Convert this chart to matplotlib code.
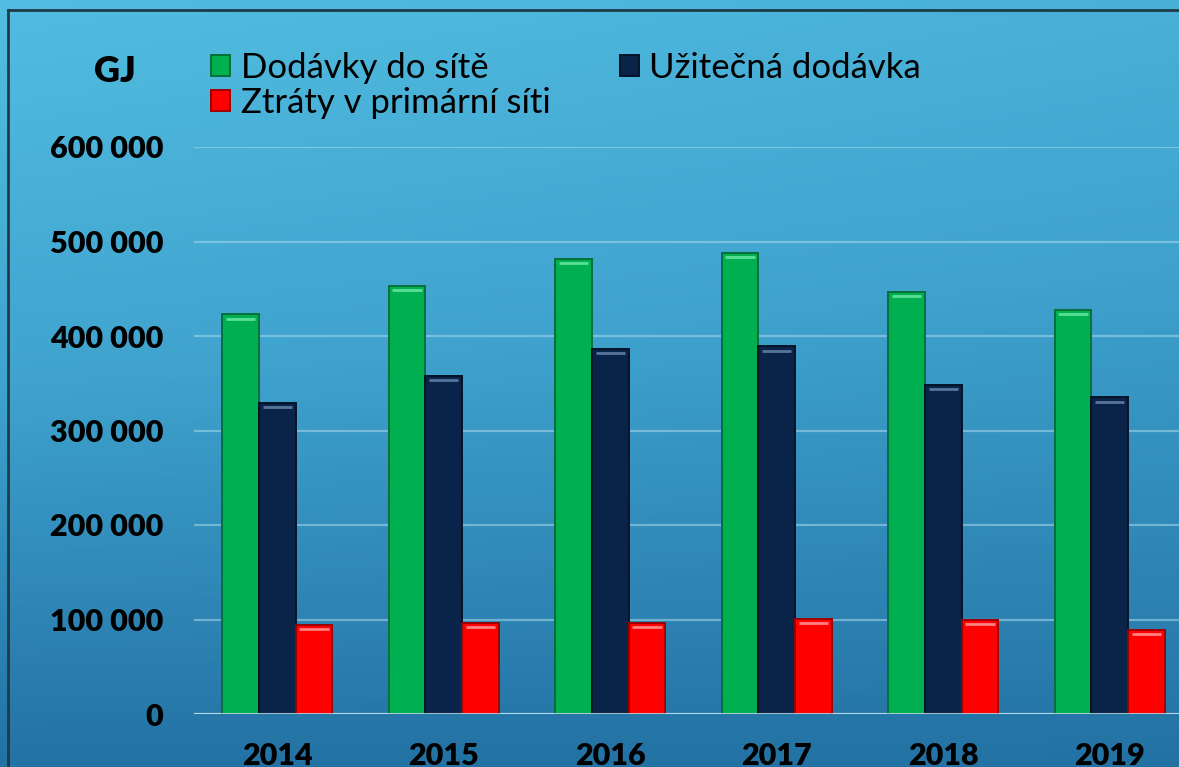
import numpy as np
import matplotlib
matplotlib.use("Agg")
import matplotlib.pyplot as plt
from matplotlib.lines import Line2D
from matplotlib.colors import LinearSegmentedColormap

years = ["2014", "2015", "2016", "2017", "2018", "2019"]
dodavky = [423000, 453000, 482000, 488000, 447000, 428000]
uzitecna = [329000, 358000, 386000, 389000, 348000, 335000]
ztraty = [94500, 96500, 96500, 100500, 99800, 89000]
series_names = ["Dodávky do sítě", "Užitečná dodávka", "Ztráty v primární síti"]
yticks = [0, 100000, 200000, 300000, 400000, 500000, 600000]
ytick_labels = ["0", "100 000", "200 000", "300 000", "400 000", "500 000", "600 000"]

plt.rcParams['font.family'] = ['Lato', 'DejaVu Sans']

W, H = 1179, 767
fig = plt.figure(figsize=(W / 100, H / 100), dpi=100)

# background gradient
bg = fig.add_axes([0, 0, 1, 1], zorder=-10)
yy, xx = np.mgrid[0:1:200j, 0:1:200j]
grad = 0.8 * yy + 0.2 * xx * (1 - yy)
cmap = LinearSegmentedColormap.from_list("bgc", ["#52BDE0", "#3FA3CE", "#2372A4"])
bg.imshow(grad, cmap=cmap, aspect="auto", extent=[0, 1, 0, 1], origin="upper")
bg.set_axis_off()

# frame lines
fig.add_artist(Line2D([8 / W, 1], [1 - 10 / H, 1 - 10 / H], color="#1E3B47", lw=2))
fig.add_artist(Line2D([8 / W, 8 / W], [0, 1 - 10 / H], color="#1E3B47", lw=2))

left = 194 / W
right = 1193 / W
bottom = 1 - 714 / H
top = 1 - 147 / H
ax = fig.add_axes([left, bottom, right - left, top - bottom])
ax.set_facecolor("none")
for s in ax.spines.values():
    s.set_visible(False)

x = np.arange(len(years))
bw = 0.22
colors = ["#00B050", "#0A2449", "#FF0000"]
edges = ["#05703A", "#041328", "#A00000"]
highlights = ["#6BE8A4", "#6683AA", "#FF9A9A"]
data = [dodavky, uzitecna, ztraty]
handles = []
for i, (vals, c, ec, hc) in enumerate(zip(data, colors, edges, highlights)):
    pos = x + (i - 1) * bw
    b = ax.bar(pos, vals, width=bw, color=c, edgecolor=ec, linewidth=1.4, zorder=3,
               label=series_names[i])
    handles.append(b)
    # top bevel highlight
    for p, v in zip(pos, vals):
        ax.plot([p - bw * 0.4, p + bw * 0.4], [v - 4500, v - 4500], color=hc,
                lw=2.0, alpha=0.85, zorder=4, solid_capstyle="butt")

ax.set_xlim(-0.5, 5.5)
ax.set_ylim(0, 600000)
ax.set_yticks(yticks)
ax.set_yticklabels(ytick_labels)
ax.set_xticks(x)
ax.set_xticklabels(years)
ax.yaxis.grid(True, color="#A9D8EC", alpha=0.55, lw=1.6, zorder=0)
ax.axhline(0, color="#C9E6F2", alpha=0.8, lw=2.2, zorder=5)
ax.tick_params(axis="y", length=0, pad=22, labelsize=22)
ax.tick_params(axis="x", length=0, pad=20, labelsize=22)
for lbl in ax.get_yticklabels() + ax.get_xticklabels():
    lbl.set_fontweight("heavy")
    lbl.set_color("black")

fig.text(115 / W, 1 - 72 / H, "GJ", fontsize=26, fontweight="heavy", ha="center", va="center")

leg = fig.legend([handles[0], handles[2], handles[1]],
                 [series_names[0], series_names[2], series_names[1]],
                 ncol=2, loc="upper left", bbox_to_anchor=(211 / W, 1 - 52 / H),
                 frameon=False, fontsize=25, handlelength=0.55, handleheight=0.55,
                 handletextpad=0.3, columnspacing=2.0, labelspacing=0.08,
                 borderaxespad=0, borderpad=0)

fig.savefig("out.png", dpi=100)
